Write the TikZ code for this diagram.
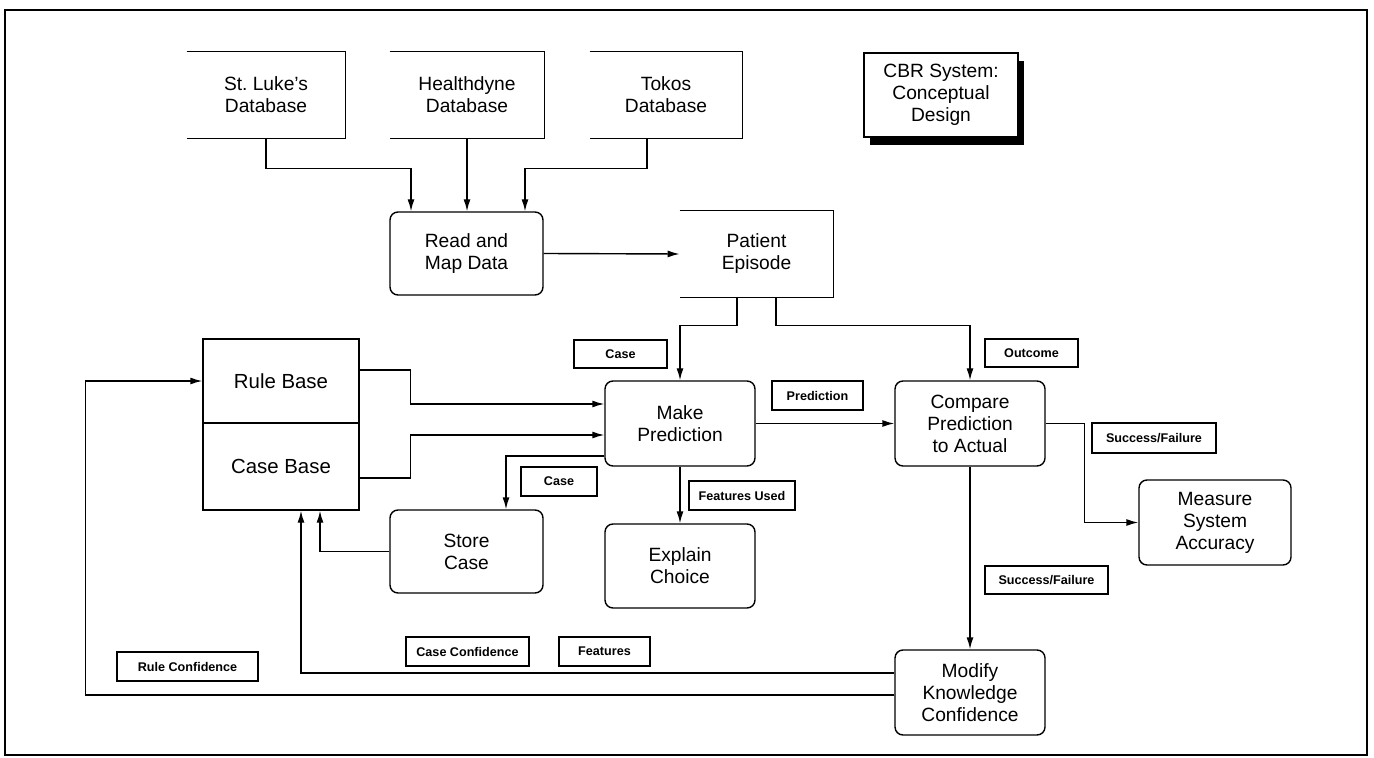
\documentclass[tikz,border=0pt]{standalone}
\usepackage{fontspec}
\setmainfont{Liberation Sans}
\usetikzlibrary{arrows.meta,calc,shadows}
\begin{document}
\begin{tikzpicture}[x=0.5pt,y=-0.5pt,
  every node/.style={align=center, inner sep=0pt, font=\fontsize{9.6}{11}\selectfont},
  proc/.style={draw, rounded corners=4pt, line width=0.7pt},
  lbl/.style={draw, line width=0.8pt, font=\fontsize{6.3}{7}\selectfont\bfseries},
  ln/.style={line width=0.7pt},
  arr/.style={line width=0.7pt, -{Latex[length=6pt,width=3.5pt]}}]
\useasboundingbox (0,0) rectangle (1374,758);
\draw[line width=1.2pt] (5,10) rectangle (1367,755);

% data stores (open on the left)
\node[minimum width=79pt,minimum height=43pt] (stl) at (266,95) {St.\ Luke's\\Database};
\node[minimum width=77pt,minimum height=43pt] (hd) at (467,95) {Healthdyne\\Database};
\node[minimum width=76pt,minimum height=43pt] (tok) at (666,95) {Tokos\\Database};
\node[minimum width=76.5pt,minimum height=43pt] (pe) at (756.5,254) {Patient\\Episode};
\foreach \n in {stl,hd,tok,pe}
  \draw[ln] (\n.north west) -- (\n.north east) -- (\n.south east) -- (\n.south west);

% title box
\node[draw, fill=white, line width=0.8pt, minimum width=77pt, minimum height=42pt,
  drop shadow={shadow xshift=3pt, shadow yshift=-4pt, opacity=1, fill=black}]
  (cbr) at (941,95) {CBR System:\\Conceptual\\Design};

% knowledge base
\node[draw, line width=0.7pt, minimum width=78pt, minimum height=42pt,
  font=\fontsize{10.2}{12}\selectfont] (rb) at (281,381) {Rule Base};
\node[draw, line width=0.7pt, minimum width=78pt, minimum height=43.5pt,
  font=\fontsize{10.2}{12}\selectfont] (cb) at (281,466.5) {Case Base};

% processes
\node[proc, minimum width=76.5pt, minimum height=41.5pt] (rmd) at (466.5,253.5) {Read and\\Map Data};
\node[proc, minimum width=75pt, minimum height=42.5pt] (mp) at (680,423.5) {Make\\Prediction};
\node[proc, minimum width=75pt, minimum height=42pt] (ec) at (680,566) {Explain\\Choice};
\node[proc, minimum width=76.5pt, minimum height=41.5pt] (sc) at (466.5,551.5) {Store\\Case};
\node[proc, minimum width=75pt, minimum height=42.5pt] (cp) at (970,423.5) {Compare\\Prediction\\to Actual};
\node[proc, minimum width=76pt, minimum height=42.5pt] (msa) at (1215,522.5) {Measure\\System\\Accuracy};
\node[proc, minimum width=75pt, minimum height=42.5pt] (mkc) at (970,692.5) {Modify\\Knowledge\\Confidence};

% labels
\node[lbl, minimum width=46.5pt, minimum height=14pt] (lcase1) at (620.5,354) {Case};
\node[lbl, minimum width=46.5pt, minimum height=14pt] (lout) at (1031.5,353) {Outcome};
\node[lbl, minimum width=45.5pt, minimum height=14.5pt] (lpred) at (817.5,395.5) {Prediction};
\node[lbl, minimum width=62pt, minimum height=15pt] (lsf1) at (1154,438) {Success/Failure};
\node[lbl, minimum width=38pt, minimum height=14.5pt] (lcase2) at (559,481.5) {Case};
\node[lbl, minimum width=53pt, minimum height=14.5pt] (lfu) at (742,495.5) {Features Used};
\node[lbl, minimum width=61.5pt, minimum height=14pt] (lsf2) at (1046.5,580) {Success/Failure};
\node[lbl, minimum width=61.5pt, minimum height=14.5pt] (lcc) at (467.5,651.5) {Case Confidence};
\node[lbl, minimum width=45.5pt, minimum height=14.5pt] (lfeat) at (604.5,651.5) {Features};
\node[lbl, minimum width=70.5pt, minimum height=14.5pt] (lrc) at (187.5,666.5) {Rule Confidence};

% connectors
\draw[arr] (stl.south) -- ++(0,30) -| ([xshift=-27.75pt]rmd.north);
\draw[arr] (hd.south) -- (hd.south |- rmd.north);
\draw[arr] ([xshift=-9.5pt]tok.south) -- ++(0,30) -| ([xshift=29.25pt]rmd.north);
\draw[arr] (rmd.east) -- (pe.west);
\draw[arr] ([xshift=-9.75pt]pe.south) -- ++(0,28) -| (mp.north);
\draw[arr] ([xshift=9.75pt]pe.south) -- ++(0,28) -| (cp.north);
\draw[arr] ([yshift=5.5pt]rb.east) -- ++(51,0) |- ([yshift=9.75pt]mp.west);
\draw[arr] ([yshift=-5.75pt]cb.east) -- ++(51,0) |- ([yshift=-5.75pt]mp.west);
\draw[arr] ([yshift=-16.25pt]mp.west) -| ([xshift=19.75pt]sc.north);
\draw[arr] (sc.west) -| ([xshift=19.5pt]cb.south);
\draw[arr] (mp.south) -- (ec.north);
\draw[arr] (mp.east) -- (cp.west);
\draw[arr] (cp.east) -- ++(39,0) |- (msa.west);
\draw[arr] (cp.south) -- (mkc.north);
\draw[arr] ([yshift=9.75pt]mkc.west) -| ([xshift=10pt]cb.south);
\draw[arr] ([yshift=-1.25pt]mkc.west) -| ($(rb.west)+(-117,0)$) -- (rb.west);
\end{tikzpicture}
\end{document}
